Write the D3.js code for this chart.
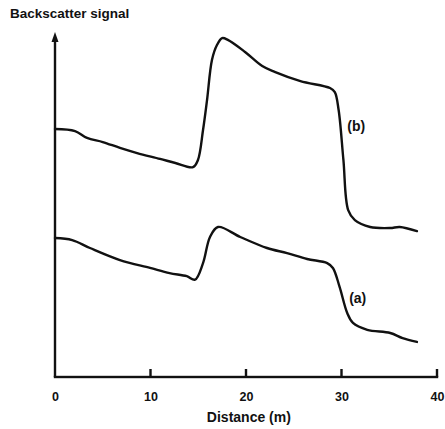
<!DOCTYPE html>
<html>
<head>
<meta charset="utf-8">
<script src="https://cdn.jsdelivr.net/npm/d3@7"></script>
<style>
    body { margin: 0; background: #fff; }
    svg text { font-family: "Liberation Sans", "DejaVu Sans", sans-serif; font-weight: bold; fill: #111; }
</style>
</head>
<body>
<svg id="chart"></svg>
<script>

// distance along the beam (m)
const distB = [0, 2.1, 3.35, 5.0, 6.8, 8.6, 11.0, 12.6, 14.45, 14.97, 15.5, 15.92, 16.44, 16.96, 17.5, 18.1, 19.9, 21.7, 23.0, 25.7, 28.8, 29.3, 29.7, 30.2, 30.7, 31.4, 33.0, 35.1, 36.1, 37.9]
// curve (b) backscatter signal (arbitrary units)
const signalB = [72.1, 71.5, 69.5, 68.3, 66.6, 65.1, 63.4, 62.2, 61.0, 63.1, 71.8, 80.5, 92.2, 96.5, 98.5, 98.0, 94.5, 90.4, 88.7, 86.0, 84.0, 82.8, 77.6, 63.1, 48.5, 45.6, 43.6, 43.3, 43.6, 42.4]

const distA = [0, 1.8, 3.66, 6.8, 9.95, 12.0, 13.8, 14.66, 15.5, 16.23, 17.07, 19.4, 22.2, 24.3, 26.4, 28.5, 29.1, 29.8, 30.6, 31.2, 32.7, 35.1, 36.4, 37.9]
// curve (a)
const signalA = [40.4, 39.8, 37.5, 34.0, 31.7, 30.2, 29.3, 28.3, 33.1, 40.7, 43.6, 40.7, 37.5, 36.0, 34.3, 33.1, 31.7, 26.2, 18.6, 15.7, 13.7, 12.8, 11.3, 10.2]

const xTicks = [0, 10, 20, 30, 40]

const width = 445, height = 429

const svg = d3.select('#chart')
    .attr('width', width)
    .attr('height', height)

const xScale = d3.scaleLinear()
    .domain([0, 40])
    .range([55, 437])
const yScale = d3.scaleLinear()
    .domain([0, 100])
    .range([377, 33])

// x axis: labels from d3, line and tick marks drawn as filled rects
const xAxis = d3.axisBottom(xScale)
    .tickValues(xTicks)
    .tickSize(0)
    .tickPadding(15)
    .tickFormat(d3.format('d'))

const gx = svg.append('g')
    .attr('transform', `translate(0, ${yScale(0)})`)
    .call(xAxis)
gx.select('.domain').remove()
gx.selectAll('.tick text')
    .style('font-size', '12.5px')
    .style('font-family', '"Liberation Sans", sans-serif')
    .attr('fill', '#111')

svg.append('rect')
    .attr('x', xScale(0) - 1.2)
    .attr('y', yScale(0) - 1.2)
    .attr('width', xScale(40) - xScale(0) + 2.4)
    .attr('height', 2.4)
    .attr('fill', '#111')

svg.append('g')
    .selectAll('rect')
    .data(xTicks.slice(1))
    .join('rect')
    .attr('x', d => xScale(d) - 1.2)
    .attr('y', yScale(0) - 8)
    .attr('width', 2.4)
    .attr('height', 8)
    .attr('fill', '#111')

// y axis with arrow head
const x0 = xScale(0), yTop = yScale(100)

svg.append('rect')
    .attr('x', x0 - 1.2)
    .attr('y', yTop + 6)
    .attr('width', 2.4)
    .attr('height', yScale(0) - yTop - 6)
    .attr('fill', '#111')

svg.append('path')
    .attr('d', `M${x0},${yTop - 1} L${x0 + 3.5},${yTop + 9} L${x0 - 3.5},${yTop + 9} Z`)
    .attr('fill', '#111')

svg.append('text')
    .attr('x', 10)
    .attr('y', 18)
    .style('font-size', '13.5px')
    .text('Backscatter signal')

svg.append('text')
    .attr('x', xScale(20.3))
    .attr('y', 422)
    .attr('text-anchor', 'middle')
    .style('font-size', '14px')
    .text('Distance (m)')

const line = d3.line()
    .x(d => xScale(d[0]))
    .y(d => yScale(d[1]))
    .curve(d3.curveCatmullRom.alpha(0.5))

const curves = [
    { x: distB, y: signalB, label: '(b)', lx: 30.6, ly: 73 },
    { x: distA, y: signalA, label: '(a)', lx: 30.8, ly: 23 }
]

curves.forEach(c => {
    const pts = c.x.map((d, i) => [d, c.y[i]])
    svg.append('path')
        .datum(pts)
        .attr('d', line)
        .attr('fill', 'none')
        .attr('stroke', '#111')
        .attr('stroke-width', 2.4)
        .attr('stroke-linejoin', 'round')
        .attr('stroke-linecap', 'round')

    svg.append('text')
        .attr('x', xScale(c.lx))
        .attr('y', yScale(c.ly) + 5)
        .style('font-size', '14px')
        .text(c.label)
})

</script>
</body>
</html>
